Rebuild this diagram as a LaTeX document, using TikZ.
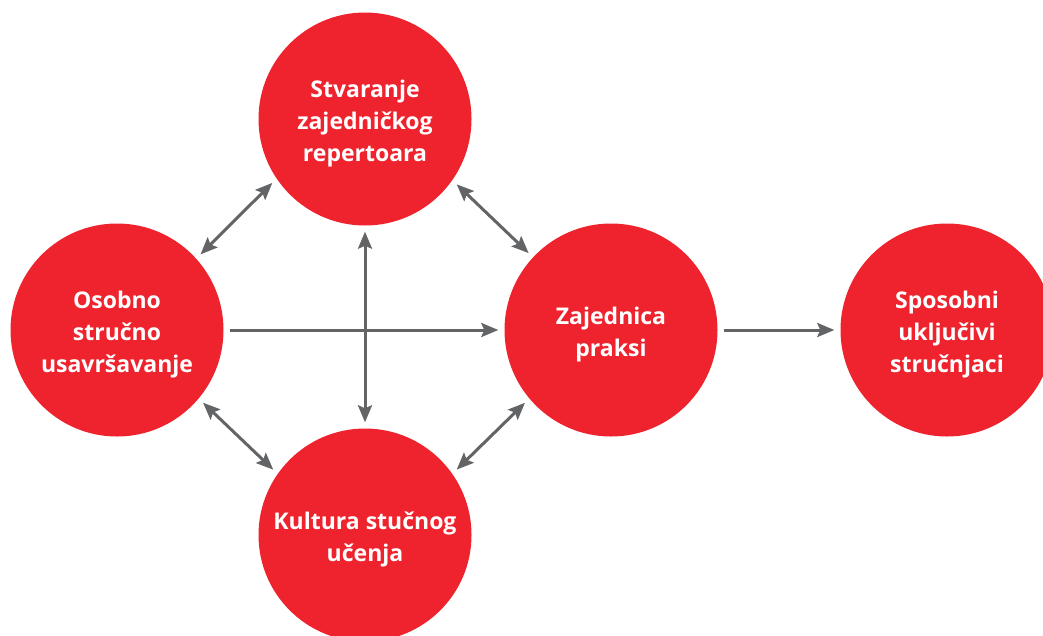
\documentclass[tikz,border=0pt]{standalone}
\usepackage{fontspec}
\setmainfont{Open Sans}
\usetikzlibrary{arrows.meta}
\definecolor{cred}{HTML}{EE232D}
\definecolor{cgray}{HTML}{636466}
\begin{document}
\begin{tikzpicture}[x=1pt,y=-1pt,
  bub/.style={circle,fill=cred,minimum size=213pt,inner sep=0pt},
  txt/.style={text=white,inner sep=0pt,font=\fontsize{23}{32}\selectfont\bfseries,align=center},
  link/.style={draw=cgray,line width=3pt,shorten >=6pt,shorten <=6pt},
  dbl/.style={link,{Stealth[length=17pt,width=14pt,inset=3pt]}-{Stealth[length=17pt,width=14pt,inset=3pt]}},
  sgl/.style={link,-{Stealth[length=17pt,width=14pt,inset=3pt]}}]
\path[use as bounding box, clip] (0,0) rectangle (1043,635);
\fill[white] (0,0) rectangle (1043,635);
\node[bub] (T) at (365,119) {};
\node[bub] (L) at (117,330) {};
\node[bub] (Z) at (611,330) {};
\node[bub] (S) at (947,330) {};
\node[bub] (B) at (365,535) {};
\node[txt] (Tt) at ([yshift=-5pt]T.center) {Stvaranje\\zajedničkog\\repertoara};
\node[txt] (Lt) at ([yshift=-5pt]L.center) {Osobno\\stručno\\usavršavanje};
\node[txt] (Zt) at ([yshift=-5pt]Z.center) {Zajednica\\praksi};
\node[txt] (St) at ([yshift=-5pt]S.center) {Sposobni\\uključivi\\stručnjaci};
\node[txt] (Bt) at ([yshift=-4pt]B.center) {Kultura stučnog\\učenja};
\draw[sgl] (L) -- (Z);
\draw[sgl] (Z) -- (S);
\draw[dbl] (T) -- (B);
\draw[dbl] (L.42) -- (T.214.5);
\draw[dbl] (T.325.5) -- (Z.137);
\draw[dbl] (L.320) -- (B.145);
\draw[dbl] (Z.220) -- (B.35);
\end{tikzpicture}
\end{document}
